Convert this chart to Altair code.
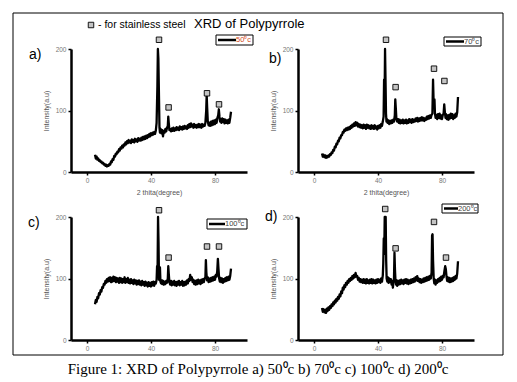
import altair as alt
import pandas as pd

# ---------------- data ----------------
A_X = [5,5.5,6,6.5,7,7.5,8,8.5,9,9.5,10,10.5,11,11.5,12,12.5,13,13.5,14,14.5,15,15.5,16,16.5,17,17.5,18,18.5,19,19.5,
       20,20.5,21,21.5,22,22.5,23,23.5,24,24.5,25,25.5,26,26.5,27,27.5,28,28.5,29,29.5,30,30.5,31,31.5,32,32.5,33,33.5,34,34.5,
       35,35.5,36,36.5,37,37.5,38,38.5,39,39.5,40,40.5,41,41.5,42,42.5,43,43.5,44,44.3,44.6,45,45.3,45.6,46,46.5,47,47.5,48,48.5,
       49,49.5,50,50.5,50.8,51.1,51.5,52,52.5,53,53.5,54,54.5,55,55.5,56,56.5,57,57.5,58,58.5,59,59.5,60,60.5,61,61.5,62,62.5,
       63,63.5,64,64.5,65,65.5,66,66.5,67,67.5,68,68.5,69,69.5,70,70.5,71,71.5,72,72.5,73,73.5,74,74.5,74.8,75.1,75.5,76,76.5,
       77,77.5,78,78.5,79,79.5,80,80.5,81,81.5,82,82.4,82.8,83.2,83.5,84,84.5,85,85.5,86,86.5,87,87.5,88,88.5,89,89.5,90]
A_Y = [28,22,25,20,22,18,19,16,17,14,15,12,13,10,12,9,11,10,13,12,17,16,21,20,26,25,30,29,33,32,
       37,35,40,38,43,40,45,43,48,45,50,47,52,48,51,47,53,49,52,48,54,50,53,49,55,51,54,51,56,52,
       57,53,58,54,59,55,60,57,62,58,63,60,64,61,65,62,67,80,140,200,185,120,72,64,70,63,68,58,67,64,
       70,66,72,75,90,80,68,70,66,71,67,72,67,71,68,73,69,72,68,74,70,73,69,74,70,75,71,74,70,
       76,72,78,73,79,74,77,72,78,73,76,72,77,73,78,73,77,72,78,74,77,75,80,100,125,105,82,76,80,
       75,82,76,83,77,84,78,85,80,88,92,102,90,82,86,80,87,81,86,79,85,80,84,79,85,80,88,98]

B_X = [5,5.5,6,6.5,7,7.5,8,8.5,9,9.5,10,10.5,11,11.5,12,12.5,13,13.5,14,14.5,15,15.5,16,16.5,17,17.5,18,18.5,19,19.5,
       20,20.5,21,21.5,22,22.5,23,23.5,24,24.5,25,25.5,26,26.5,27,27.5,28,28.5,29,29.5,30,30.5,31,31.5,32,32.5,33,33.5,34,34.5,
       35,35.5,36,36.5,37,37.5,38,38.5,39,39.5,40,40.5,41,41.5,42,42.5,43,43.5,43.8,44.1,44.4,44.7,45,45.3,45.6,46,46.5,47,47.5,
       48,48.5,49,49.5,50,50.5,50.8,51.1,51.5,52,52.5,53,53.5,54,54.5,55,55.5,56,56.5,57,57.5,58,58.5,59,59.5,60,60.5,61,61.5,
       62,62.5,63,63.5,64,64.5,65,65.5,66,66.5,67,67.5,68,68.5,69,69.5,70,70.5,71,71.5,72,72.5,73,73.5,74,74.4,74.7,75,75.3,
       75.6,76,76.5,77,77.5,78,78.5,79,79.5,80,80.5,81,81.4,81.8,82.2,82.5,83,83.5,84,84.5,85,85.5,86,86.5,87,87.5,88,88.5,
       89,89.5,90]
B_Y = [30,25,28,24,27,23,26,24,27,25,29,28,32,31,36,35,41,40,46,45,51,50,56,55,60,60,65,64,69,67,
       71,68,72,69,73,70,75,72,77,74,79,75,81,76,80,74,78,73,77,72,76,71,77,72,76,70,77,72,76,71,
       75,70,76,71,75,70,76,71,74,69,75,71,76,72,78,75,82,90,150,110,200,150,95,82,86,80,84,78,83,
       79,84,80,85,82,92,118,105,86,82,86,80,85,79,84,80,85,79,84,80,85,79,84,80,86,81,85,80,86,
       81,85,82,87,83,88,82,87,83,88,84,89,84,88,83,87,85,90,86,91,87,92,88,93,95,150,120,105,118,
       95,88,93,86,94,88,95,87,92,86,93,95,110,97,88,94,86,92,85,93,87,95,88,94,86,92,88,95,
       90,97,122]

C_X = [5,5.5,6,6.5,7,7.5,8,8.5,9,9.5,10,10.5,11,11.5,12,12.5,13,13.5,14,14.5,15,15.5,16,16.5,17,17.5,18,18.5,19,19.5,
       20,20.5,21,21.5,22,22.5,23,23.5,24,24.5,25,25.5,26,26.5,27,27.5,28,28.5,29,29.5,30,30.5,31,31.5,32,32.5,33,33.5,34,34.5,
       35,35.5,36,36.5,37,37.5,38,38.5,39,39.5,40,40.5,41,41.5,42,42.5,43,43.5,43.8,44.1,44.4,44.7,45,45.3,45.6,45.9,46.3,46.8,
       47,47.5,48,48.5,49,49.5,50,50.5,50.8,51.1,51.5,52,52.5,53,53.5,54,54.5,55,55.5,56,56.5,57,57.5,58,58.5,59,59.5,60,60.5,
       61,61.5,62,62.5,63,63.5,64,64.5,65,65.5,66,66.5,67,67.5,68,68.5,69,69.5,70,70.5,71,71.5,72,72.5,73,73.5,74,74.3,74.6,
       75,75.5,76,76.5,77,77.5,78,78.5,79,79.5,80,80.5,81,81.4,81.8,82.2,82.6,83,83.5,84,84.5,85,85.5,86,86.5,87,87.5,88,88.5,
       89,89.5,90]
C_Y = [58,65,62,70,68,76,74,81,79,86,85,91,90,96,93,99,95,101,96,102,94,101,95,103,96,102,94,101,95,100,
       93,101,94,100,93,99,94,102,93,99,94,101,93,98,92,99,93,97,91,98,92,97,90,96,91,97,90,95,89,96,
       90,94,88,95,89,93,87,94,88,93,87,94,89,95,88,94,92,98,120,110,200,160,98,110,118,95,92,97,
       91,96,90,95,91,96,93,100,120,108,94,90,96,89,95,90,96,89,94,88,95,90,96,89,94,90,96,88,94,
       89,95,90,97,92,99,96,106,98,102,94,98,91,96,90,97,91,98,92,97,91,98,93,99,94,100,102,130,110,
       97,102,94,100,95,101,96,102,97,103,98,106,103,112,132,115,100,95,101,94,100,93,99,95,101,96,102,97,103,
       98,104,116]

D_X = [5,5.5,6,6.5,7,7.5,8,8.5,9,9.5,10,10.5,11,11.5,12,12.5,13,13.5,14,14.5,15,15.5,16,16.5,17,17.5,18,18.5,19,19.5,
       20,20.5,21,21.5,22,22.5,23,23.5,24,24.5,25,25.5,26,26.5,27,27.5,28,28.5,29,29.5,30,30.5,31,31.5,32,32.5,33,33.5,34,34.5,
       35,35.5,36,36.5,37,37.5,38,38.5,39,39.5,40,40.5,41,41.5,42,42.5,43,43.3,43.6,43.9,44.2,44.5,44.8,45.1,45.4,45.8,46.2,46.6,
       47,47.5,48,48.5,49,49.3,49.7,50,50.3,50.6,50.9,51.3,51.7,52,52.5,53,53.5,54,54.5,55,55.5,56,56.5,57,57.5,58,58.5,59,59.5,
       60,60.5,61,61.5,62,62.5,63,63.5,64,64.5,65,65.5,66,66.5,67,67.5,68,68.5,69,69.5,70,70.5,71,71.5,72,72.5,73,73.5,73.8,
       74.1,74.4,74.8,75.2,75.6,76,76.5,77,77.5,78,78.5,79,79.5,80,80.5,81,81.5,82,82.4,82.8,83.2,83.6,84,84.5,85,85.5,86,86.5,
       87,87.5,88,88.5,89,89.5,90]
D_Y = [52,46,50,45,49,44,51,47,53,49,55,52,58,55,61,58,64,61,67,64,70,67,74,71,79,76,85,82,89,86,
       93,90,96,93,99,96,101,98,104,100,106,102,109,103,104,98,101,95,99,94,98,93,99,93,98,92,99,93,97,92,
       98,93,99,92,98,93,97,92,98,93,99,94,98,93,100,95,105,125,165,140,200,175,200,130,100,95,102,93,
       100,94,99,90,96,85,95,100,142,115,98,90,97,88,96,90,97,91,98,92,97,91,98,93,99,92,98,91,97,
       92,98,93,99,94,100,95,102,97,104,96,100,94,99,93,98,94,100,95,101,96,102,97,103,98,104,100,110,170,
       172,130,100,92,98,90,97,93,99,95,101,96,103,98,104,102,112,120,115,104,96,102,95,101,94,100,95,101,
       96,102,98,104,100,108,128]

# stainless-steel peak markers (x, y) for each panel
A_MX = [45, 51, 75, 82.5]
A_MY = [215, 105, 128, 110]
B_MX = [45, 51, 75, 81.5]
B_MY = [215, 138, 168, 148]
C_MX = [45, 51, 75, 82.5]
C_MY = [211, 134, 152, 152]
D_MX = [44.5, 51, 75, 82.5]
D_MY = [213, 149, 192, 134]

LEGENDS = ["50⁰c", "70⁰c", "100⁰c", "200⁰c"]
PANEL_LABELS = ["a)", "b)", "c)", "d)"]
X_TICKS = [0, 10, 20, 30, 40, 50, 60, 70, 80, 90, 100]
Y_TICKS = [0, 50, 100, 150, 200]
TITLE = "XRD of Polypyrrole"
STEEL_NOTE = "- for stainless steel"
CAPTION = "Figure 1: XRD of Polypyrrole a) 50⁰c b) 70⁰c c) 100⁰c d) 200⁰c"

W, H = 176, 123
ONE = pd.DataFrame({"k": [0]})


def deco_rect(x0, x1, y0, y1, sw=1.0, fill="white"):
    return alt.Chart(ONE).mark_rect(fill=fill, stroke="black", strokeWidth=sw).encode(
        x=alt.value(x0), x2=alt.value(x1), y=alt.value(y0), y2=alt.value(y1))


def deco_text(txt, x, y, size, color="black", font="Liberation Sans", align="left"):
    return alt.Chart(ONE).mark_text(text=txt, fontSize=size, color=color, font=font,
                                    align=align, baseline="middle").encode(
        x=alt.value(x), y=alt.value(y))


def panel(xs, ys, mxs, mys, leg, leg_color, box, lab, lab_pos, xtitle, extras=(), seg=20):
    df = pd.DataFrame({"x": xs, "y": ys})
    mdf = pd.DataFrame({"x": mxs, "y": mys})
    xenc = alt.X("x:Q", scale=alt.Scale(domain=[-10, 100], nice=False, zero=False),
                 axis=alt.Axis(values=X_TICKS, title=xtitle,
                               labelExpr="datum.value % 20 == 0 ? datum.label : ''"))
    yenc = alt.Y("y:Q", scale=alt.Scale(domain=[0, 200], nice=False),
                 axis=alt.Axis(values=Y_TICKS, title="Intensity(a.u)",
                               labelExpr="datum.value % 100 == 0 ? datum.label : ''"))
    line = alt.Chart(df).mark_line(color="black", strokeWidth=2.3, strokeJoin="round").encode(x=xenc, y=yenc)
    marks = alt.Chart(mdf).mark_point(shape="square", filled=True, fill="#c4c4c4",
                                      stroke="black", strokeWidth=0.9, size=30,
                                      opacity=1).encode(x="x:Q", y="y:Q")
    bx0, bx1, by0, by1 = box
    ym = (by0 + by1) / 2
    legbox = deco_rect(bx0, bx1, by0, by1)
    legline = alt.Chart(ONE).mark_rule(color="black", strokeWidth=2.5).encode(
        x=alt.value(bx0 + 2), x2=alt.value(bx0 + seg), y=alt.value(ym))
    legtext = deco_text(leg, bx0 + seg, ym, 7.5, color=leg_color)
    labt = deco_text(lab, lab_pos[0], lab_pos[1], 14)
    layers = [line, marks, legbox, legline, legtext, labt] + list(extras)
    return alt.layer(*layers).properties(width=W, height=H)


frame = alt.Chart(ONE).mark_rect(fill="transparent", stroke="black", strokeWidth=1).encode(
    x=alt.value(-58), x2=alt.value(432), y=alt.value(-36), y2=alt.value(306))
steel_sq = alt.Chart(ONE).mark_point(shape="square", filled=True, fill="#c4c4c4", stroke="black",
                                     strokeWidth=0.9, size=30, opacity=1).encode(
    x=alt.value(20), y=alt.value(-24))
steel_txt = deco_text(STEEL_NOTE, 27, -24, 10.5)
title_txt = deco_text(TITLE, 123, -25, 13)
caption = deco_text(CAPTION, 187, 152, 15, font="Liberation Serif", align="center")

pa = panel(A_X, A_Y, A_MX, A_MY, LEGENDS[0], "#d24a1a", (145, 182, -14, -4), PANEL_LABELS[0],
           (-42, 6), "2 thita(degree)", extras=[frame, steel_sq, steel_txt, title_txt])
pb = panel(B_X, B_Y, B_MX, B_MY, LEGENDS[1], "#444444", (146, 183, -12, -3), PANEL_LABELS[1],
           (-29, 10), "2 thita(degree)")
pc = panel(C_X, C_Y, C_MX, C_MY, LEGENDS[2], "#444444", (136, 176, 2, 12), PANEL_LABELS[2],
           (-43, 6), None, extras=[caption], seg=18)
pd_ = panel(D_X, D_Y, D_MX, D_MY, LEGENDS[3], "#444444", (144, 180, -13, -4), PANEL_LABELS[3],
            (-33, 0), None, seg=16)

chart = alt.concat(pa, pb, pc, pd_, columns=2, spacing={"row": 45, "column": 51},
                   bounds="flush").properties(
    padding={"left": 4, "top": 4, "right": 4, "bottom": 0}
).configure_view(stroke=None).configure_axis(
    grid=False, domainColor="black", domainWidth=2.5, tickColor="black", tickWidth=1.5,
    tickSize=3, labelFontSize=6.5, labelColor="#777777", labelFont="Liberation Sans",
    titleFontSize=7, titleColor="#555555", titleFontWeight="normal", titleFont="Liberation Sans",
    labelPadding=2
).configure_axisY(titlePadding=6).configure_axisX(titlePadding=5)

chart.save("out.html", embed_options={"renderer": "svg", "actions": False})
